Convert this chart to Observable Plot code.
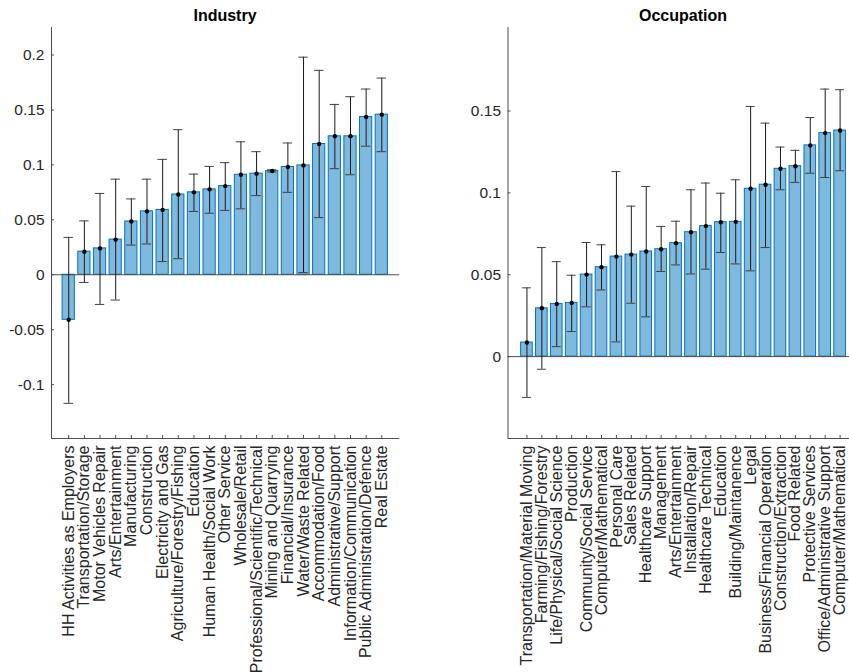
<!DOCTYPE html>
<html>
<head>
<meta charset="utf-8">
<script src="https://cdn.jsdelivr.net/npm/d3@7"></script>
<script src="https://cdn.jsdelivr.net/npm/@observablehq/plot@0.6"></script>
<style>
  html, body { margin: 0; padding: 0; background: #fff; overflow: hidden; }
  #wrap { position: relative; width: 849px; height: 672px; overflow: hidden; font-family: "Liberation Sans", Arial, Helvetica, sans-serif; }
  .panel { position: absolute; top: 0; }
  .title { position: absolute; top: 7px; font-weight: bold; font-size: 16px; color: #000; transform: translateX(-50%); white-space: nowrap; }
</style>
</head>
<body>
<div id="wrap">
  <div class="title" style="left:225px">Industry</div>
  <div class="title" style="left:683px">Occupation</div>
  <div class="panel" id="left" style="left:0px"></div>
  <div class="panel" id="right" style="left:425px"></div>
</div>
<script>
// ---------- Industry ----------
const industryNames = [
  "HH Activities as Employers", "Transportation/Storage", "Motor Vehicles Repair",
  "Arts/Entertainment", "Manufacturing", "Construction", "Electricity and Gas",
  "Agriculture/Forestry/Fishing", "Education", "Human Health/Social Work",
  "Other Service", "Wholesale/Retail", "Professional/Scientific/Technical",
  "Mining and Quarrying", "Financial/Insurance", "Water/Waste Related",
  "Accommodation/Food", "Administrative/Support", "Information/Communication",
  "Public Administration/Defence", "Real Estate"
];
const industryValue = [-0.041, 0.021, 0.024, 0.032, 0.0485, 0.0577, 0.059, 0.073, 0.075, 0.0777,
  0.0807, 0.091, 0.092, 0.0944, 0.098, 0.0995, 0.119, 0.126, 0.126, 0.1435, 0.1457];
const industryLow = [-0.117, -0.007, -0.027, -0.023, 0.027, 0.028, 0.012, 0.0146, 0.0576, 0.056,
  0.0586, 0.060, 0.072, 0.0935, 0.075, 0.002, 0.052, 0.0965, 0.091, 0.117, 0.112];
const industryHigh = [0.034, 0.049, 0.074, 0.087, 0.069, 0.087, 0.105, 0.132, 0.0916, 0.0986,
  0.102, 0.121, 0.112, 0.0955, 0.1199, 0.198, 0.186, 0.155, 0.162, 0.169, 0.179];
const industryYTicks = [-0.1, -0.05, 0, 0.05, 0.1, 0.15, 0.2];

// ---------- Occupation ----------
const occupationNames = [
  "Transportation/Material Moving", "Farming/Fishing/Forestry", "Life/Physical/Social Science",
  "Production", "Community/Social Service", "Computer/Mathematical", "Personal Care",
  "Sales Related", "Healthcare Support", "Management", "Arts/Entertainment",
  "Installation/Repair", "Healthcare Technical", "Education", "Building/Maintanence",
  "Legal", "Business/Financial Operation", "Construction/Extraction", "Food Related",
  "Protective Services", "Office/Administrative Support", "Computer/Mathematical"
];
const occupationValue = [0.0086, 0.0295, 0.0322, 0.0328, 0.0501, 0.0546, 0.0611, 0.0623, 0.0642,
  0.0656, 0.0693, 0.076, 0.0797, 0.0821, 0.0823, 0.1025, 0.105, 0.1147, 0.1163, 0.129, 0.1365, 0.1381];
const occupationLow = [-0.0249, -0.0077, 0.0061, 0.0153, 0.0304, 0.0407, 0.009, 0.0326, 0.0243,
  0.052, 0.056, 0.0505, 0.0534, 0.0636, 0.0566, 0.0524, 0.0666, 0.1019, 0.1064, 0.112, 0.1094, 0.1135];
const occupationHigh = [0.042, 0.0666, 0.058, 0.0497, 0.0697, 0.0683, 0.113, 0.0919, 0.1039,
  0.0795, 0.0827, 0.1019, 0.106, 0.0998, 0.108, 0.1528, 0.1426, 0.128, 0.126, 0.146, 0.1634, 0.163];
const occupationYTicks = [0, 0.05, 0.1, 0.15];

const BAR_FILL = "#80b9de";
const BAR_EDGE = "#0072bd";
const TEXT = "#262626";
const AXIS = "#4d4d4d";

function panel({names, values, lows, highs, yTicks, yDomain, xDomain, width, marginLeft, marginRight}) {
  const rows = names.map((n, k) => ({i: k + 1, name: n, v: values[k], lo: lows[k], hi: highs[k]}));
  const idx = rows.map(d => d.i);
  const halfBar = 0.39, halfCap = 0.3;
  return Plot.plot({
    width, height: 672,
    marginTop: 27, marginBottom: 234, marginLeft, marginRight,
    style: {fontFamily: '"Liberation Sans", Arial, Helvetica, sans-serif', fontSize: "16px", color: TEXT, background: "transparent"},
    x: {domain: xDomain, axis: null},
    y: {domain: yDomain, axis: null},
    marks: [
      Plot.rectY(rows, {x1: d => d.i - halfBar, x2: d => d.i + halfBar, y1: 0, y2: "v", fill: BAR_FILL, stroke: BAR_EDGE, strokeWidth: 1}),
      Plot.ruleY([0], {stroke: AXIS, strokeWidth: 1}),
      Plot.ruleX(rows, {x: "i", y1: "lo", y2: "hi", stroke: "#1a1a1a", strokeWidth: 1}),
      Plot.ruleY(rows, {y: "lo", x1: d => d.i - halfCap, x2: d => d.i + halfCap, stroke: "#404040", strokeWidth: 1}),
      Plot.ruleY(rows, {y: "hi", x1: d => d.i - halfCap, x2: d => d.i + halfCap, stroke: "#404040", strokeWidth: 1}),
      Plot.dot(rows, {x: "i", y: "v", r: 2.2, fill: "#000", stroke: null}),
      Plot.ruleX([xDomain[0]], {stroke: AXIS, strokeWidth: 1}),
      Plot.ruleY([yDomain[0]], {stroke: AXIS, strokeWidth: 1}),
      Plot.axisY(yTicks, {anchor: "left", label: null, tickSize: -3, tickPadding: 10, tickFormat: d => String(d), stroke: AXIS, fill: TEXT, fontSize: 15.5}),
      Plot.axisX(idx, {anchor: "bottom", label: null, tickSize: -3, tickPadding: 10, tickRotate: -90, tickFormat: i => names[i - 1], stroke: AXIS, fill: TEXT, fontSize: 16})
    ]
  });
}

document.getElementById("left").appendChild(panel({
  names: industryNames, values: industryValue, lows: industryLow, highs: industryHigh,
  yTicks: industryYTicks, yDomain: [-0.149, 0.225], xDomain: [-0.1, 22.15],
  width: 425, marginLeft: 51, marginRight: 25.7
}));
document.getElementById("right").appendChild(panel({
  names: occupationNames, values: occupationValue, lows: occupationLow, highs: occupationHigh,
  yTicks: occupationYTicks, yDomain: [-0.05, 0.201], xDomain: [-0.27, 22.63],
  width: 424, marginLeft: 82.5, marginRight: 0
}));
</script>
</body>
</html>
